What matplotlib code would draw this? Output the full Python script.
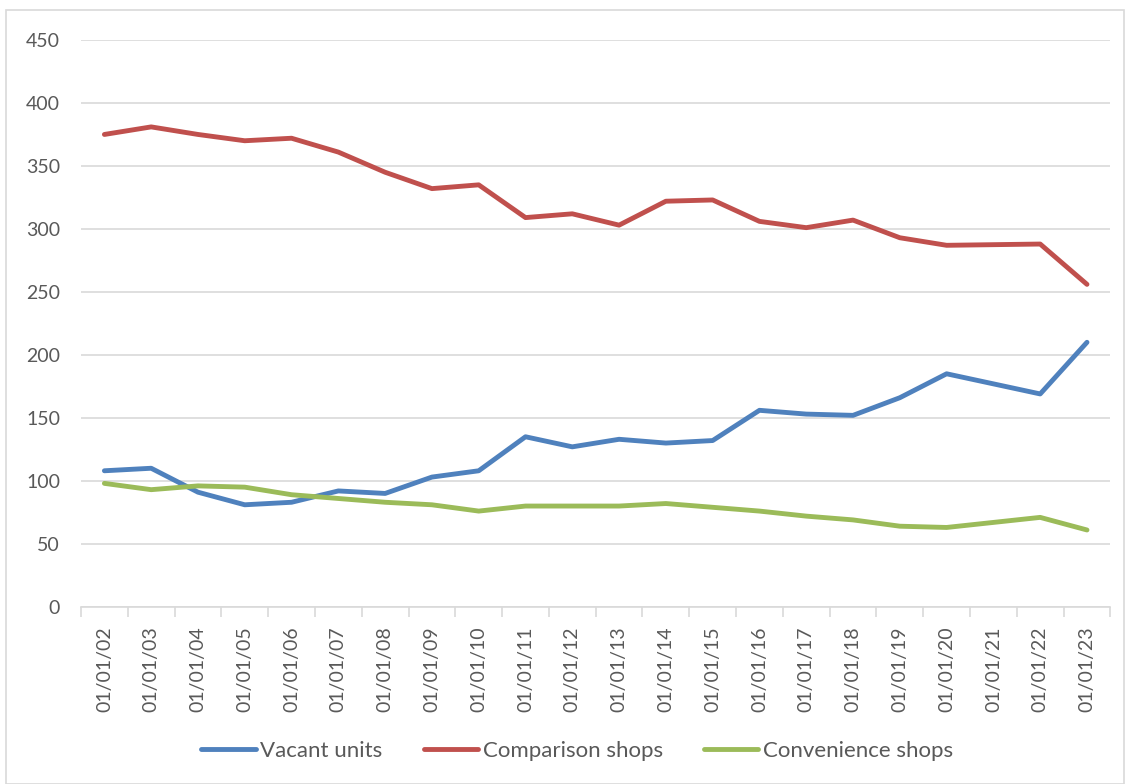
import matplotlib
matplotlib.use("Agg")
import matplotlib.pyplot as plt
from matplotlib.patches import Rectangle
import numpy as np

plt.rc("font", family=["Lato", "DejaVu Sans"])

dates = ["01/01/%02d" % y for y in range(2, 24)]
vacant_units = [108, 110, 91, 81, 83, 92, 90, 103, 108, 135, 127, 133,
                130, 132, 156, 153, 152, 166, 185, 177, 169, 210]
comparison_shops = [375, 381, 375, 370, 372, 361, 345, 332, 335, 309, 312, 303,
                    322, 323, 306, 301, 307, 293, 287, 287.5, 288, 256]
convenience_shops = [98, 93, 96, 95, 89, 86, 83, 81, 76, 80, 80, 80,
                     82, 79, 76, 72, 69, 64, 63, 67, 71, 61]

text_color = "#595959"
grid_color = "#d9d9d9"

fig = plt.figure(figsize=(11.25, 7.84), dpi=100)
ax = fig.add_axes([0.072, 0.226, 0.915, 0.723])

x = np.arange(len(dates))
ax.plot(x, vacant_units, color="#4f81bd", lw=3.5, label="Vacant units",
        solid_capstyle="round")
ax.plot(x, comparison_shops, color="#c0504d", lw=3.5, label="Comparison shops",
        solid_capstyle="round")
ax.plot(x, convenience_shops, color="#9bbb59", lw=3.5, label="Convenience shops",
        solid_capstyle="round")

ax.set_xlim(-0.5, len(dates) - 0.5)
ax.set_ylim(0, 450)
ax.set_yticks(np.arange(0, 451, 50))
ax.yaxis.grid(True, color=grid_color, lw=1.2)
ax.set_axisbelow(True)

ax.set_xticks(x)
ax.set_xticklabels(dates, rotation=90)
ax.set_xticks(np.arange(-0.5, len(dates), 1), minor=True)
ax.tick_params(axis="x", which="major", length=0, pad=14,
               labelsize=14, labelcolor=text_color)
ax.tick_params(axis="x", which="minor", length=7, width=1.2, color=grid_color)
ax.tick_params(axis="y", length=0, pad=15, labelsize=14, labelcolor=text_color)

for side in ["top", "right", "left"]:
    ax.spines[side].set_visible(False)
ax.spines["bottom"].set_color(grid_color)
ax.spines["bottom"].set_linewidth(1.2)

leg = fig.legend(loc="center", bbox_to_anchor=(0.513, 0.042), ncol=3,
                 frameon=False, fontsize=16, handlelength=2.45,
                 handletextpad=0.2, columnspacing=1.85)
for t in leg.get_texts():
    t.set_color(text_color)

fig.patches.append(Rectangle((0.005, 0.0), 0.994, 0.987, transform=fig.transFigure,
                             fill=False, edgecolor=grid_color, lw=1.2))

fig.savefig("out.png", dpi=100)
